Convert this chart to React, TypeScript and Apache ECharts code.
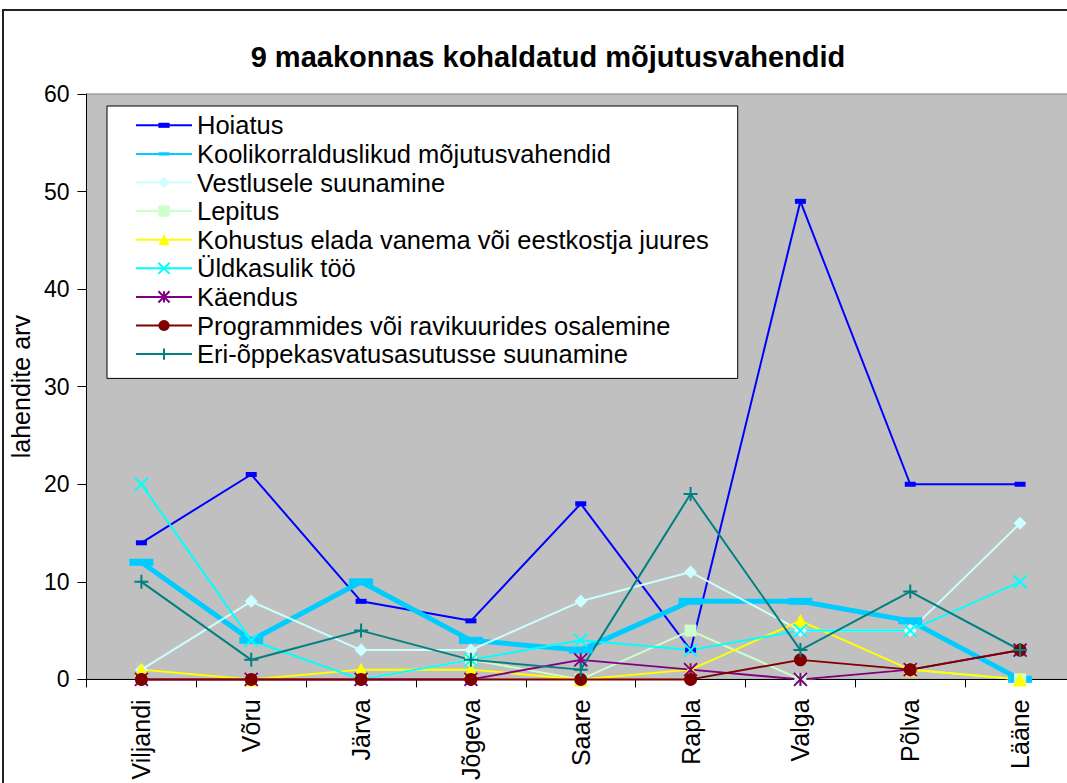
import React, { useEffect, useRef } from "react";
import * as echarts from "echarts";

const categories = ["Viljandi", "Võru", "Järva", "Jõgeva", "Saare", "Rapla", "Valga", "Põlva", "Lääne"];
const hoiatus = [14, 21, 8, 6, 18, 3, 49, 20, 20];
const koolikorralduslikud = [12, 4, 10, 4, 3, 8, 8, 6, 0];
const vestlusele = [1, 8, 3, 3, 8, 11, 5, 5, 16];
const lepitus = [0, 0, 0, 2, 0, 5, 0, 1, 0];
const kohustus = [1, 0, 1, 1, 0, 1, 6, 1, 0];
const yldkasulik = [20, 4, 0, 2, 4, 3, 5, 5, 10];
const kaendus = [0, 0, 0, 0, 2, 1, 0, 1, 3];
const programmides = [0, 0, 0, 0, 0, 0, 2, 1, 3];
const eriOppe = [10, 2, 5, 2, 1, 19, 3, 9, 3];
const yTicks = [0, 10, 20, 30, 40, 50, 60];

const FONT = "'Liberation Sans', Arial, sans-serif";

type S = { name: string; data: number[]; color: string; width: number; symbol: string; size: any; stroke?: boolean };

const seriesDefs: S[] = [
  { name: "Hoiatus", data: hoiatus, color: "#0000FF", width: 2, symbol: "path://M0,0M11,11M0,3H11V8H0Z", size: 11 },
  { name: "Koolikorralduslikud mõjutusvahendid", data: koolikorralduslikud, color: "#00CCFF", width: 5, symbol: "path://M0,0M24,24M0,8.5H24V15.5H0Z", size: 24 },
  { name: "Vestlusele suunamine", data: vestlusele, color: "#CCFFFF", width: 2, symbol: "diamond", size: 13 },
  { name: "Lepitus", data: lepitus, color: "#CCFFCC", width: 2, symbol: "rect", size: 12 },
  { name: "Kohustus elada vanema või eestkostja juures", data: kohustus, color: "#FFFF00", width: 2, symbol: "triangle", size: 14 },
  { name: "Üldkasulik töö", data: yldkasulik, color: "#00FFFF", width: 2, symbol: "path://M0,0L10,10M10,0L0,10", size: 13, stroke: true },
  { name: "Käendus", data: kaendus, color: "#800080", width: 2, symbol: "path://M0,0L10,10M10,0L0,10M5,0L5,10", size: 13, stroke: true },
  { name: "Programmides või ravikuurides osalemine", data: programmides, color: "#800000", width: 2, symbol: "circle", size: 13 },
  { name: "Eri-õppekasvatusasutusse suunamine", data: eriOppe, color: "#008080", width: 2, symbol: "path://M5,0L5,10M0,5L10,5", size: 14, stroke: true },
];

export default function App() {
  const ref = useRef<HTMLDivElement>(null);
  useEffect(() => {
    if (!ref.current) return;
    const chart = echarts.init(ref.current, null, { renderer: "svg" });
    chart.setOption({
      animation: false,
      backgroundColor: "#FFFFFF",
      title: {
        text: "9 maakonnas kohaldatud mõjutusvahendid",
        left: 543,
        textAlign: "center",
        top: 37,
        textStyle: { fontFamily: FONT, fontSize: 29, fontWeight: "bold", color: "#000" },
      },
      graphic: [
        {
          type: "rect",
          shape: { x: 3, y: 10, width: 1200, height: 900 },
          style: { fill: "none", stroke: "#222", lineWidth: 2 },
          silent: true,
          z: -1,
        },
      ],
      grid: {
        left: 83,
        top: 94,
        width: 992,
        height: 586,
        show: true,
        backgroundColor: "#C0C0C0",
        borderColor: "#808080",
        borderWidth: 1,
        containLabel: false,
      },
      legend: {
        orient: "vertical",
        left: 107,
        top: 106,
        itemWidth: 56,
        itemHeight: 14,
        itemGap: 0,
        padding: [5, 29, 10, 28],
        backgroundColor: "#FFFFFF",
        borderColor: "#000000",
        borderWidth: 1,
        textStyle: { fontFamily: FONT, fontSize: 25.5, color: "#000", lineHeight: 28.6 },
        data: seriesDefs.map((s) => s.name),
      },
      xAxis: {
        type: "category",
        data: categories,
        boundaryGap: true,
        axisLine: { lineStyle: { color: "#000", width: 1 } },
        axisTick: { show: true, length: 8, lineStyle: { color: "#000" } },
        axisLabel: { rotate: 90, margin: 20, fontFamily: FONT, fontSize: 25, color: "#000", interval: 0 },
        splitLine: { show: false },
      },
      yAxis: {
        type: "value",
        min: yTicks[0],
        max: yTicks[yTicks.length - 1],
        interval: 10,
        name: "lahendite arv",
        nameLocation: "middle",
        nameGap: 44,
        nameTextStyle: { fontFamily: FONT, fontSize: 25, color: "#000" },
        axisLine: { show: true, lineStyle: { color: "#000", width: 1 } },
        axisTick: { show: true, length: 9, lineStyle: { color: "#000" } },
        axisLabel: { margin: 17, fontFamily: FONT, fontSize: 23, color: "#000" },
        splitLine: { show: false },
      },
      series: seriesDefs.map((s) => ({
        type: "line",
        name: s.name,
        data: s.data,
        symbol: s.symbol,
        symbolSize: s.size,
        showSymbol: true,
        lineStyle: { color: s.color, width: s.width },
        itemStyle: s.stroke
          ? { color: s.color, borderColor: s.color, borderWidth: 2 }
          : { color: s.color, borderColor: s.color, borderWidth: 0 },
        emphasis: { disabled: true },
        clip: false,
      })),
    });
    return () => chart.dispose();
  }, []);
  return (
    <div style={{ position: "fixed", left: 0, top: 0, width: 1067, height: 783, overflow: "hidden" }}>
      <div ref={ref} style={{ width: 1090, height: 783 }} />
    </div>
  );
}
